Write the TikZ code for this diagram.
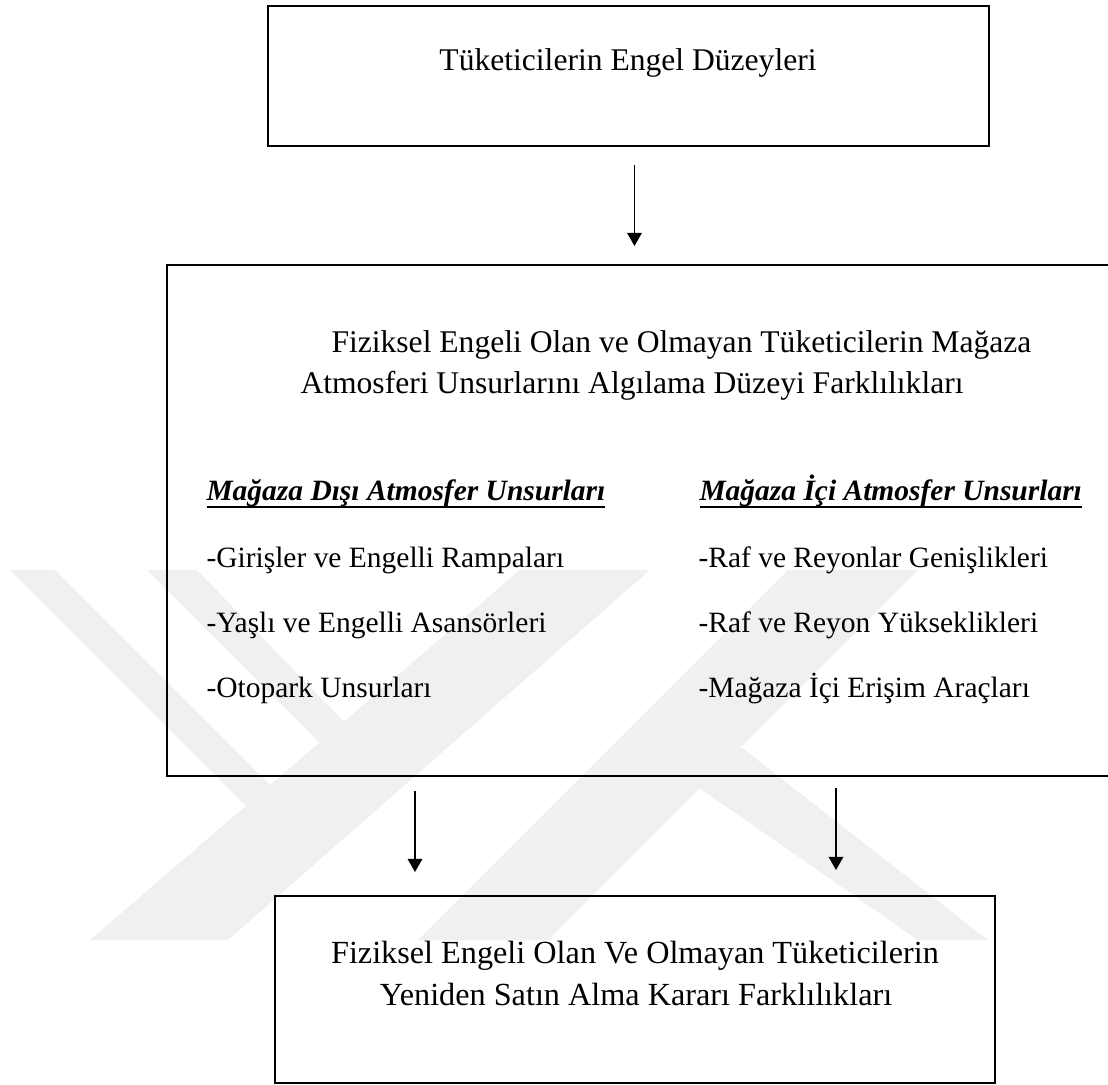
\documentclass[tikz,border=0pt]{standalone}
\usepackage{fontspec}
\setmainfont{Liberation Serif}
\usetikzlibrary{arrows.meta, positioning, calc}
\newcommand{\px}{0.38pt}
\newcommand{\hdrul}[1]{\setbox0\hbox{#1}\rlap{\rule[-2.9pt]{\wd0}{0.8pt}}\box0}
\definecolor{yokgray}{RGB}{240, 240, 240}

\begin{document}
\begin{tikzpicture}[x=\px, y=-\px,
    every node/.style={font=\fontsize{12}{16}\selectfont, inner sep=0pt},
    box/.style={draw, line width=0.75pt},
    txt/.style={anchor=base west, font=\fontsize{11.2}{14}\selectfont},
    hdr/.style={anchor=base west, font=\fontsize{11.2}{14}\selectfont\bfseries\itshape},
    arr/.style={line width=0.7pt, -{Triangle[width=5.5pt, length=5pt]}},
    yokband/.style={fill=yokgray}]
    \useasboundingbox (0,0) rectangle (1108,1084);

    % Watermark (Y)
    \fill[yokband] (10,570) -- (55,570) -- (270,785) -- (246,806) -- cycle;
    \fill[yokband] (147,570) -- (197,570) -- (344,722) -- (320,743) -- cycle;
    \fill[yokband] (90,940) -- (228,940) -- (650,570) -- (520,570) -- cycle;
    % Watermark (K)
    \fill[yokband] (418,940) -- (548,940) -- (918,570) -- (788,570) -- cycle;
    \fill[yokband] (741,747) -- (988,940) -- (918,940) -- (698,787) -- cycle;

    % Top box
    \node[box, minimum width=721*\px, minimum height=140*\px] (engel) at (628.5,76) {};
    \node[anchor=base] (engeltxt) at (628,70) {Tüketicilerin Engel Düzeyleri};

    % Middle box
    \node[box, minimum width=947*\px, minimum height=511*\px] (olcek) at (640.5,520.5) {};
    \node[anchor=base west] (title1) at (331,352) {Fiziksel Engeli Olan ve Olmayan Tüketicilerin Mağaza};
    \node[anchor=base west] (title2) at (300,393) {Atmosferi Unsurlarını Algılama Düzeyi Farklılıkları};

    \node[hdr] (disH) at (206,500) {\hdrul{Mağaza Dışı Atmosfer Unsurları}};
    \node[txt] (dis1) at (206,567) {-Girişler ve Engelli Rampaları};
    \node[txt] (dis2) at (206,632) {-Yaşlı ve Engelli Asansörleri};
    \node[txt] (dis3) at (206,697) {-Otopark Unsurları};

    \node[hdr] (icH) at (699,500) {\hdrul{Mağaza İçi Atmosfer Unsurları}};
    \node[txt] (ic1) at (698,567) {-Raf ve Reyonlar Genişlikleri};
    \node[txt] (ic2) at (698,632) {-Raf ve Reyon Yükseklikleri};
    \node[txt] (ic3) at (698,697) {-Mağaza İçi Erişim Araçları};

    % Bottom box
    \node[box, minimum width=720*\px, minimum height=187*\px] (karar) at (635,989.5) {};
    \node[anchor=base, font=\fontsize{12.25}{16}\selectfont] (karar1) at (635,963) {Fiziksel Engeli Olan Ve Olmayan Tüketicilerin};
    \node[anchor=base, font=\fontsize{12.25}{16}\selectfont] (karar2) at (636,1005) {Yeniden Satın Alma Kararı Farklılıkları};

    % Arrows
    \draw[arr] ($(engel.south)+(6,18)$) -- ($(olcek.north -| engel.south)+(6,-18)$);
    \draw[arr] ($(olcek.south -| karar.north)+(-220,14)$) -- ($(karar.north)+(-220,-23)$);
    \draw[arr] ($(olcek.south -| karar.north)+(201,11)$) -- ($(karar.north)+(201,-25)$);
\end{tikzpicture}
\end{document}
